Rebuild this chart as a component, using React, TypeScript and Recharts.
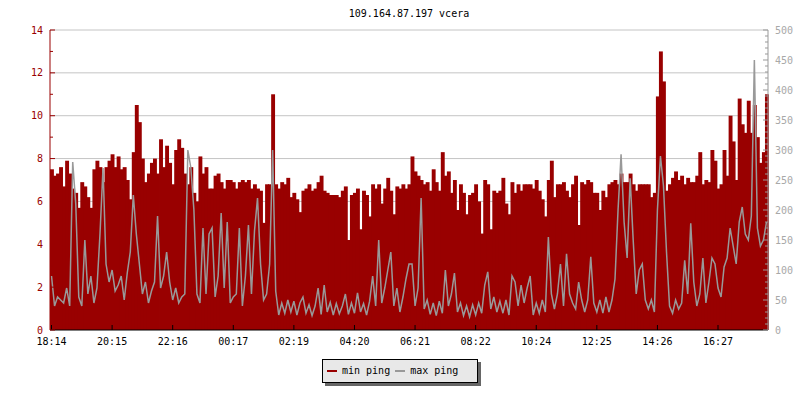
import React from "react";
import { ComposedChart, Bar, Line, XAxis, YAxis, CartesianGrid } from "recharts";

const title = "109.164.87.197 vcera";
const timeLabels = ["18:14", "20:15", "22:16", "00:17", "02:19", "04:20", "06:21", "08:22", "10:24", "12:25", "14:26", "16:27"];
const seriesNames = ["min ping", "max ping"];

// min ping (ms, left axis), one value per ~6 minutes
const minPing = [
  7.5, 7.2, 7.3, 7.6, 6.7, 7.9, 7.3, 6.6, 6.4, 5.7, 6.9, 6.7, 6.2, 5.7, 7.5, 7.9, 7.6, 6.9, 7.6, 7.9,
  8.2, 7.6, 8.1, 7.5, 7.6, 7.0, 6.1, 8.3, 10.5, 9.7, 8.0, 6.9, 7.3, 7.8, 8.0, 7.3, 8.9, 7.6, 8.6, 7.8,
  6.8, 8.4, 8.9, 8.5, 7.3, 6.8, 7.6, 6.4, 6.0, 8.1, 7.3, 7.6, 6.6, 6.6, 7.2, 7.3, 6.9, 6.6, 7.0, 7.0,
  6.9, 6.6, 6.9, 7.0, 6.9, 7.0, 6.6, 6.8, 6.6, 6.5, 5.0, 6.8, 6.8, 11.0, 6.8, 6.6, 6.9, 6.8, 7.1,
  6.2, 6.4, 6.1, 5.5, 6.5, 6.6, 6.8, 6.5, 6.6, 6.9, 7.2, 6.5, 6.4, 6.3, 6.3, 6.3, 6.2, 6.5, 6.7, 4.2,
  6.3, 6.4, 6.6, 4.7, 6.5, 6.3, 5.3, 6.8, 6.6, 6.8, 5.9, 6.6, 7.1, 6.5, 5.4, 6.7, 6.6, 6.8, 6.6, 6.8,
  8.1, 7.4, 7.2, 7.0, 6.8, 6.9, 6.5, 7.5, 6.9, 6.5, 8.3, 7.2, 7.4, 6.4, 7.0, 5.6, 6.8, 6.4, 5.4, 6.3,
  6.4, 6.8, 6.0, 4.5, 7.0, 6.8, 4.7, 6.5, 6.4, 6.5, 7.1, 5.9, 5.4, 6.9, 6.4, 6.8, 6.5, 6.8, 6.8,
  6.8, 6.6, 7.0, 6.5, 6.1, 5.3, 7.0, 7.9, 6.2, 6.8, 6.8, 6.9, 6.5, 6.2, 6.8, 7.2, 4.9, 6.9, 6.8, 7.0,
  6.9, 6.4, 6.4, 5.6, 6.5, 6.2, 6.8, 6.9, 7.0, 6.8, 7.3, 6.9, 6.9, 7.3, 6.8, 6.5, 6.8, 6.8, 6.8, 6.8,
  6.2, 6.4, 10.9, 13.0, 11.6, 6.5, 6.8, 7.1, 7.4, 7.0, 7.2, 6.8, 7.1, 6.9, 6.9, 7.2, 8.3, 6.8, 7.0, 6.9,
  8.4, 7.9, 6.6, 6.8, 8.4, 7.2, 10.0, 8.8, 7.0, 10.8, 9.6, 9.2, 10.7, 9.2, 10.5, 9.0, 7.8, 8.3, 11.0,
];

// max ping (ms, right axis)
const maxPing = [
  90, 40, 55, 50, 45, 70, 40, 280, 210, 55, 40, 150, 60, 90, 45, 70, 160, 270, 110, 80,
  100, 65, 75, 90, 50, 95, 130, 225, 160, 110, 60, 80, 45, 65, 80, 190, 70, 90, 130, 80,
  50, 70, 45, 55, 60, 300, 270, 200, 60, 45, 170, 60, 160, 170, 55, 90, 195, 70, 180, 45,
  55, 60, 170, 40, 90, 175, 60, 165, 220, 110, 50, 60, 110, 300, 65, 25, 45, 28, 50,
  30, 48, 25, 45, 55, 28, 42, 24, 40, 70, 26, 75, 30, 46, 25, 44, 27, 40, 60, 26,
  45, 28, 62, 30, 44, 25, 48, 90, 40, 150, 45, 70, 100, 130, 40, 70, 30, 55, 85, 110,
  110, 40, 70, 220, 35, 50, 26, 45, 24, 48, 28, 100, 40, 60, 95, 30, 45, 24, 40, 22,
  42, 25, 45, 28, 75, 97, 35, 55, 30, 48, 28, 50, 25, 90, 80, 40, 75, 45, 70,
  90, 25, 45, 28, 50, 30, 155, 60, 35, 60, 110, 40, 127, 60, 45, 35, 80, 50, 30, 50,
  122, 45, 30, 50, 28, 55, 30, 50, 85, 200, 293, 180, 120, 253, 150, 60, 100, 110, 50, 35,
  50, 30, 200, 290, 240, 130, 40, 28, 50, 35, 45, 116, 60, 178, 80, 40, 60, 120, 45, 80,
  120, 110, 70, 55, 105, 120, 170, 140, 110, 180, 205, 160, 150, 190, 450, 170, 140, 150, 180,
];

const leftTicks = [0, 1, 2, 3, 4, 5, 6, 7, 8, 9, 10, 11, 12, 13, 14];
const rightTicks = Array.from({ length: 51 }, (_, k) => k * 10);
const gridValues = [2, 4, 6, 8, 10, 12, 14];

const RED = "#990000";
const GRAY = "#999999";
const FONT = "'DejaVu Sans Mono', monospace";

const data = minPing.map((v, i) => ({ i, min: v, max: maxPing[i] }));

const LeftTick = (props: any) => {
  const { x, y, payload } = props;
  const v = payload.value;
  const major = v % 2 === 0;
  const ax = x + 7;
  return (
    <g>
      <line x1={ax} x2={ax + (major ? 5 : 3)} y1={y} y2={y} stroke={RED} />
      {major && (
        <text x={x} y={y} dy={3.5} textAnchor="end" fill={RED} fontSize={10} fontFamily={FONT}>
          {v}
        </text>
      )}
    </g>
  );
};

const RightTick = (props: any) => {
  const { x, y, payload } = props;
  const v = payload.value;
  const major = v % 50 === 0;
  const ax = x - 7;
  return (
    <g>
      <line x1={ax} x2={ax - (major ? 5 : 3)} y1={y} y2={y} stroke={GRAY} />
      {major && (
        <text x={x} y={y} dy={3.5} textAnchor="start" fill="#a8a8a8" fontSize={10} fontFamily={FONT}>
          {v}
        </text>
      )}
    </g>
  );
};

const TimeTick = (props: any) => {
  const { x, y, payload } = props;
  const ay = y - 6;
  return (
    <g>
      <line x1={x} x2={x} y1={ay} y2={ay - 5} stroke="#000" />
      <text x={x} y={y} dy={9} textAnchor="middle" fill="#000" fontSize={10} fontFamily={FONT}>
        {timeLabels[payload.value / 20]}
      </text>
    </g>
  );
};

// bars are widened a little so neighbouring columns touch without seams
const Column = (p: any) => <rect x={p.x} y={p.y} width={p.width + 0.9} height={p.height} fill={RED} />;

const App = () => {
  return (
    <div style={{ position: "absolute", left: 0, top: 0, width: 800, height: 400, background: "#fff" }}>
      <div
        style={{
          position: "absolute",
          left: 50,
          top: 8,
          width: 718,
          textAlign: "center",
          fontFamily: FONT,
          fontSize: 10,
          lineHeight: "12px",
          color: "#000",
        }}
      >
        {title}
      </div>
      <ComposedChart
        width={800}
        height={400}
        data={data}
        margin={{ top: 30, right: 0, left: 0, bottom: 50 }}
        barCategoryGap={0}
        barGap={0}
      >
        <CartesianGrid yAxisId="left" vertical={false} horizontalValues={gridValues} stroke="#c4c4c4" />
        <XAxis
          dataKey="i"
          interval={19}
          height={20}
          tickSize={0}
          tickMargin={6}
          tickLine={false}
          axisLine={{ stroke: "#000" }}
          tick={<TimeTick />}
        />
        <YAxis
          yAxisId="left"
          orientation="left"
          width={50}
          domain={[0, 14]}
          ticks={leftTicks}
          interval={0}
          tickSize={0}
          tickMargin={7}
          tickLine={false}
          axisLine={{ stroke: RED }}
          tick={<LeftTick />}
        />
        <YAxis
          yAxisId="right"
          orientation="right"
          width={32}
          domain={[0, 500]}
          ticks={rightTicks}
          interval={0}
          tickSize={0}
          tickMargin={7}
          tickLine={false}
          axisLine={{ stroke: GRAY }}
          tick={<RightTick />}
        />
        <Bar yAxisId="left" dataKey="min" fill={RED} shape={<Column />} isAnimationActive={false} />
        <Line
          yAxisId="right"
          dataKey="max"
          type="linear"
          stroke={GRAY}
          strokeWidth={1.5}
          dot={false}
          activeDot={false}
          isAnimationActive={false}
        />
      </ComposedChart>
      <div
        style={{
          position: "absolute",
          left: 322,
          top: 359,
          width: 150,
          height: 22,
          paddingLeft: 4,
          background: "#e8e8e8",
          border: "1px solid #000",
          boxShadow: "3px 3px 0 #666",
          display: "flex",
          alignItems: "center",
          fontFamily: FONT,
          fontSize: 10,
          lineHeight: "12px",
          color: "#000",
        }}
      >
        {seriesNames.map((name, k) => (
          <span key={name} style={{ display: "flex", alignItems: "center", marginRight: 5 }}>
            <span style={{ display: "inline-block", width: 10, height: 2, background: k === 0 ? RED : GRAY, marginRight: 5 }} />
            <span>{name}</span>
          </span>
        ))}
      </div>
    </div>
  );
};

export default App;
